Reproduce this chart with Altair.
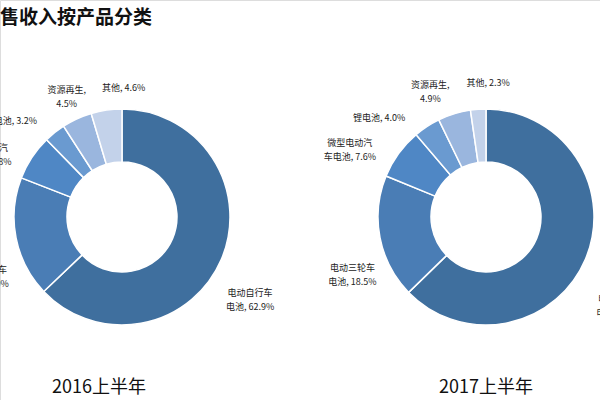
import altair as alt
import pandas as pd

# ---- data ----
title_text = "售收入按产品分类"
years = ["2016上半年", "2017上半年"]
categories = ["电动自行车电池", "电动三轮车电池", "微型电动汽车电池", "锂电池", "资源再生", "其他"]
share_2016 = [62.9, 18.0, 6.8, 3.2, 4.5, 4.6]
share_2017 = [62.7, 18.5, 7.6, 4.0, 4.9, 2.3]
# label text split into (first line, second line prefix)
label_parts = [
    ("电动自行车", "电池, "),
    ("电动三轮车", "电池, "),
    ("微型电动汽", "车电池, "),
    ("", "锂电池, "),
    ("资源再生,", ""),
    ("", "其他, "),
]

# ---- styles / layout ----
colors = ["#3F6F9E", "#4A7DB5", "#4F87C5", "#6A9AD0", "#9AB6DE", "#C3D2EA"]
centers_x = [122, 486]
center_y = 217
inner_r, outer_r, label_r = 55, 108, 135
font_cjk = "Noto Sans CJK SC"
# manual label nudges (dx, dy), like hand-dragged data labels
nudge = {
    "2016上半年": [(4, 23), (-5, 27), (-24, 5), (-27, 10), (1, -4), (21, 5)],
    "2017上半年": [(10, 30), (-1, 25), (-27, 5), (-33, 14), (-16, -3), (12, 1)],
}
year_label_dx = [-23, 0]

rows = []
for year, shares in zip(years, [share_2016, share_2017]):
    for i, (cat, v) in enumerate(zip(categories, shares)):
        l1, l2 = label_parts[i]
        txt = (l1 + "\n" if l1 else "") + l2 + f"{v:.1f}%"
        rows.append({"year": year, "cat": cat, "idx": i, "share": v, "label": txt})
df = pd.DataFrame(rows)

xenc = alt.X(
    "year:N",
    scale=alt.Scale(type="point", domain=years, range=centers_x, padding=0),
    axis=None,
)
theta_enc = alt.Theta("share:Q", stack=True, scale=alt.Scale(domain=[0, 100]))
order_enc = alt.Order("idx:Q", sort="ascending")

layers = []
for yi, year in enumerate(years):
    base = alt.Chart(df).transform_filter(alt.datum.year == year)
    arcs = base.mark_arc(
        innerRadius=inner_r, outerRadius=outer_r, stroke="white", strokeWidth=1.5
    ).encode(
        theta=theta_enc,
        order=order_enc,
        color=alt.Color("cat:N", scale=alt.Scale(domain=categories, range=colors), legend=None),
        x=xenc,
        y=alt.value(center_y),
    )
    layers.append(arcs)
    for ci, cat in enumerate(categories):
        dx, dy = nudge[year][ci]
        t = base.mark_text(
            radius=label_r, dx=dx, dy=dy, lineBreak="\n", fontSize=9,
            font=font_cjk, color="#222222", align="center", baseline="middle",
            lineHeight=14,
        ).encode(
            theta=theta_enc,
            order=order_enc,
            text=alt.condition(alt.datum.cat == cat, "label:N", alt.value("")),
            x=xenc,
            y=alt.value(center_y),
        )
        layers.append(t)
    ylab = alt.Chart(pd.DataFrame({"year": [year]})).mark_text(
        fontSize=18, font=font_cjk, color="#111111", dx=year_label_dx[yi],
        baseline="middle", align="center",
    ).encode(x=xenc, y=alt.value(388), text="year:N")
    layers.append(ylab)

title = alt.Chart(pd.DataFrame({"t": [title_text]})).mark_text(
    fontSize=19, font=font_cjk, fontWeight="bold", color="#111111",
    align="left", baseline="middle",
).encode(x=alt.value(0), y=alt.value(18), text="t:N")
layers.append(title)

chart = alt.layer(*layers).properties(
    width=600, height=400, autosize=alt.AutoSizeParams(type="none"), padding=0
).configure_view(stroke=None).configure(background="white")

chart.save("out.html", embed_options={"renderer": "svg", "actions": False})
